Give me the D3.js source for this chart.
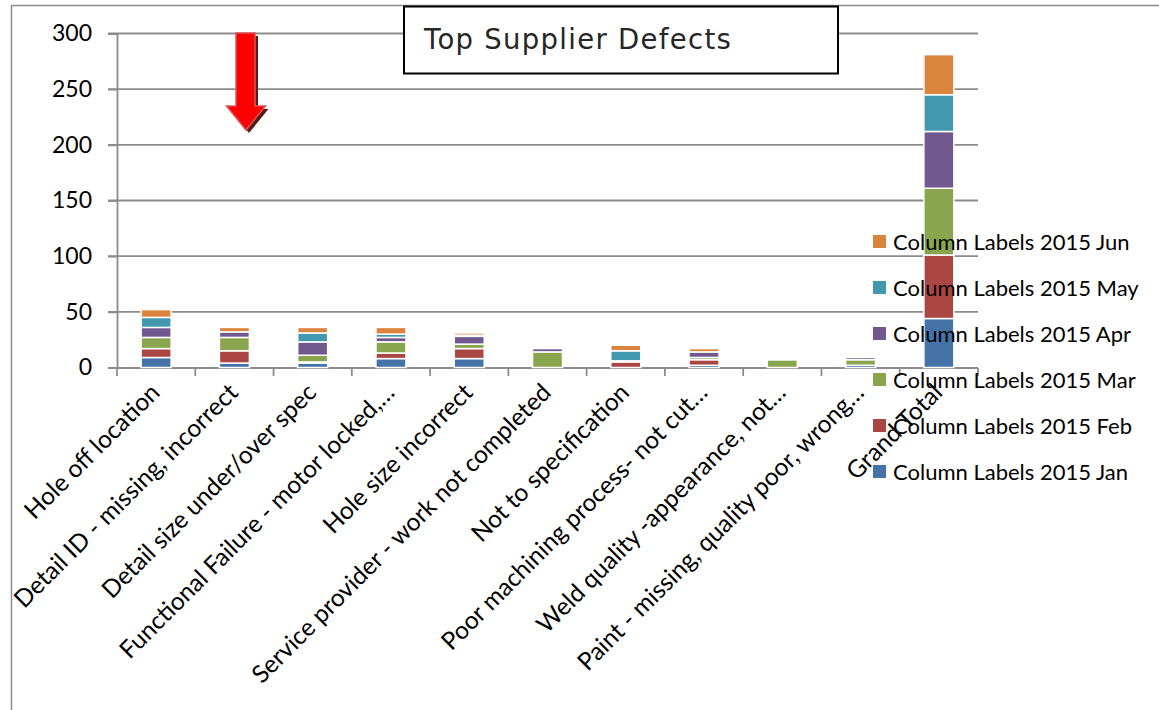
<!DOCTYPE html>
<html>
<head>
<meta charset="utf-8">
<script src="https://cdn.jsdelivr.net/npm/d3@7"></script>
<style>
  body { margin: 0; background: #fff; }
  svg { display: block; }
</style>
</head>
<body>
<svg id="chart" width="1159" height="710"></svg>
<script>
// categories (top supplier defects + grand total)
const categories = [
  "Hole off location",
  "Detail ID - missing, incorrect",
  "Detail size under/over spec",
  "Functional Failure - motor locked,…",
  "Hole size incorrect",
  "Service provider - work not completed",
  "Not to specification",
  "Poor machining process- not cut…",
  "Weld quality -appearance, not…",
  "Paint - missing, quality poor, wrong…",
  "Grand Total"
];

const months = ["Jan", "Feb", "Mar", "Apr", "May", "Jun"];

// monthly values, one per category
const jan = [9, 4, 4, 8, 8, 0, 0, 2, 0, 2, 44];
const feb = [8, 11, 1, 5, 9, 0, 5, 5, 0, 0, 57];
const mar = [10, 12, 6, 10, 4, 14, 1, 2, 7, 5, 60];
const apr = [9, 5, 12, 4, 7, 3, 0, 5, 0, 2, 51];
const may = [9, 0, 8, 3, 1, 0, 9, 0, 0, 0, 33];
const jun = [7, 4, 5, 6, 2, 0, 5, 3, 1, 0, 36];

const yTicks = [0, 50, 100, 150, 200, 250, 300];
const colors = ["#4572A7", "#AA4643", "#89A54E", "#71588F", "#4198AF", "#DB843D"];

const rows = categories.map((c, i) => ({
  cat: c, Jan: jan[i], Feb: feb[i], Mar: mar[i], Apr: apr[i], May: may[i], Jun: jun[i]
}));

const svg = d3.select("#chart");
const font = "Lato, 'Open Sans', sans-serif";

// outer frame
svg.append("rect")
  .attr("x", 11.5).attr("y", 5.5)
  .attr("width", 1170).attr("height", 720)
  .attr("fill", "#fff").attr("stroke", "#8c8c8c").attr("stroke-width", 1.5);

const x = d3.scaleBand().domain(categories).range([117, 978]).paddingInner(0).paddingOuter(0);
const y = d3.scaleLinear().domain([0, 300]).range([367.5, 33.5]);
const color = d3.scaleOrdinal().domain(months).range(colors);

// gridlines
svg.append("g").selectAll("line")
  .data(yTicks.filter(d => d > 0))
  .join("line")
    .attr("x1", 108).attr("x2", 978)
    .attr("y1", d => y(d)).attr("y2", d => y(d))
    .attr("stroke", "#8c8c8c").attr("stroke-width", 1.8);

// y axis
const yAxis = svg.append("g")
  .attr("transform", "translate(117,0)")
  .call(d3.axisLeft(y).tickValues(yTicks).tickSize(9).tickPadding(16));
yAxis.select(".domain").attr("stroke", "#8c8c8c").attr("stroke-width", 1.8);
yAxis.selectAll(".tick line").attr("stroke", "#8c8c8c").attr("stroke-width", 1.8);
yAxis.selectAll(".tick text")
  .attr("font-family", font).attr("font-size", 23).attr("fill", "#000");

// x axis line + boundary ticks
svg.append("line")
  .attr("x1", 117).attr("x2", 978).attr("y1", 368).attr("y2", 368)
  .attr("stroke", "#8c8c8c").attr("stroke-width", 1.8);
svg.append("g").selectAll("line")
  .data(categories.slice(1).concat([null]))
  .join("line")
    .attr("x1", (d, i) => i < categories.length - 1 ? x(d) : x.range()[1])
    .attr("x2", (d, i) => i < categories.length - 1 ? x(d) : x.range()[1])
    .attr("y1", 368).attr("y2", 376)
    .attr("stroke", "#8c8c8c").attr("stroke-width", 1.8);
svg.append("line")
  .attr("x1", 117).attr("x2", 117).attr("y1", 368).attr("y2", 376)
  .attr("stroke", "#8c8c8c").attr("stroke-width", 1.8);

// title box
svg.append("rect")
  .attr("x", 404).attr("y", 6.5).attr("width", 434).attr("height", 67)
  .attr("fill", "#fff").attr("stroke", "#000").attr("stroke-width", 2);
svg.append("text")
  .attr("x", 424).attr("y", 49)
  .attr("font-family", "'DejaVu Sans', Verdana, sans-serif")
  .attr("font-size", 27.5).attr("letter-spacing", 1.3).attr("fill", "#262626")
  .text("Top Supplier Defects");

// stacked bars
const stack = d3.stack().keys(months)(rows);
const barW = 30;
svg.append("g").selectAll("g")
  .data(stack)
  .join("g")
    .attr("fill", d => color(d.key))
  .selectAll("rect")
  .data(d => d.filter(s => s[1] - s[0] > 0))
  .join("rect")
    .attr("x", d => x(d.data.cat) + x.bandwidth() / 2 - barW / 2)
    .attr("y", d => y(d[1]))
    .attr("width", barW)
    .attr("height", d => y(d[0]) - y(d[1]))
    .attr("stroke", "#fff").attr("stroke-width", 1.5);

// category labels
svg.append("g").selectAll("text")
  .data(categories)
  .join("text")
    .attr("transform", d => `translate(${x(d) + x.bandwidth() / 2 + 5},394) rotate(-45)`)
    .attr("text-anchor", "end")
    .attr("font-family", font).attr("font-size", 24.5).attr("fill", "#000")
    .text(d => d);

// red arrow
const arrow = "M236,33 L255,33 L255,106 L265.5,106 L246,130 L226.5,106 L236,106 Z";
svg.append("path").attr("d", arrow).attr("transform", "translate(3,3)")
  .attr("fill", "#5a1a1a");
svg.append("path").attr("d", arrow)
  .attr("fill", "#ff0000").attr("stroke", "#d9555a").attr("stroke-width", 1.5);

// legend
const legendItems = months.slice().reverse();
const lg = svg.append("g").selectAll("g")
  .data(legendItems)
  .join("g")
    .attr("transform", (d, i) => `translate(873,${242 + i * 46})`);
lg.append("rect")
  .attr("x", 0).attr("y", -7).attr("width", 13).attr("height", 13)
  .attr("fill", d => color(d));
lg.append("text")
  .attr("x", 20).attr("y", 8)
  .attr("font-family", font).attr("font-size", 22).attr("fill", "#000")
  .text(d => `Column Labels 2015 ${d}`);
</script>
</body>
</html>
